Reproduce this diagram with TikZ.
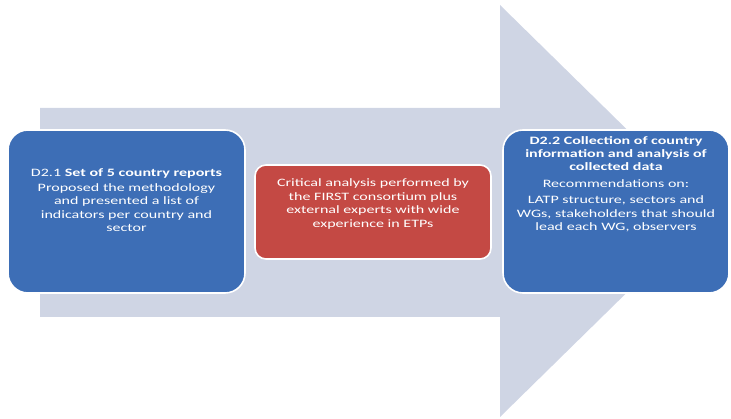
\documentclass[tikz,border=0pt]{standalone}
\usepackage{fontspec}
\setmainfont{Carlito}[FakeStretch=1.42]
\definecolor{arrowgray}{HTML}{CFD5E4}
\definecolor{boxblue}{HTML}{3D6EB6}
\definecolor{boxred}{HTML}{C44944}
\tikzset{
  bluebox/.style={draw=white, line width=1.6pt, fill=boxblue, rounded corners=20pt, minimum width=#1, minimum height=163pt, inner sep=0pt},
  redbox/.style={draw=white, line width=1.6pt, fill=boxred, rounded corners=11pt, minimum width=236pt, minimum height=94pt, inner sep=0pt},
  txt/.style={text=white, align=center, inner sep=0pt, font=\fontsize{11.3}{13.4}\selectfont}
}
\begin{document}
\begin{tikzpicture}[x=1pt,y=-1pt]
\useasboundingbox (0,0) rectangle (731,419);
% big arrow
\fill[arrowgray] (40,108) -- (500,108) -- (500,5) -- (710,211) -- (500,417) -- (500,317) -- (40,317) -- cycle;
% boxes
\node[bluebox=237pt] (d21) at (126.5,211.5) {};
\node[redbox] (crit) at (373,212) {};
\node[bluebox=226pt] (d22) at (616,211.5) {};
% texts
\node[txt] (d21t) at (126.5,200) {D2.1 \textbf{Set of 5 country reports}\\[2pt]
Proposed the methodology\\ and presented a list of\\ indicators per country and\\ sector};
\node[txt] (critt) at (373,204) {Critical analysis performed by\\ the FIRST consortium plus\\ external experts with wide\\ experience in ETPs};
\node[txt] (d22t) at (616,184) {\textbf{D2.2 Collection of country}\\ \textbf{information and analysis of}\\ \textbf{collected data}\\[3pt]
Recommendations on:\\[3pt]
LATP structure, sectors and\\ WGs, stakeholders that should\\ lead each WG, observers};
\end{tikzpicture}
\end{document}
